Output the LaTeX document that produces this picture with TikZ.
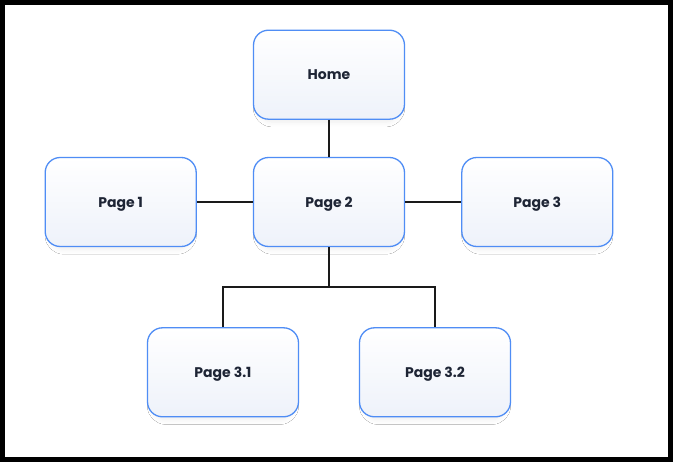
\documentclass[tikz,border=0pt]{standalone}
\usepackage{fontspec}
\setmainfont{Poppins}
\usepackage{xcolor}
\usetikzlibrary{positioning, shadows.blur}

\definecolor{boxline}{HTML}{4F8DF5}
\definecolor{boxfill}{HTML}{EEF2FA}
\definecolor{boxtext}{HTML}{1E2535}
\definecolor{wire}{HTML}{1A1A1A}

\begin{document}
\begin{tikzpicture}[
        x=1pt, y=1pt,
        font=\fontsize{14}{16}\selectfont\bfseries,
        page/.style={draw=boxline, line width=1.3pt, rounded corners=15pt, align=center,
            minimum width=151pt, minimum height=89pt, text=boxtext, text depth=0pt,
            top color=white, bottom color=boxfill,
            blur shadow={shadow xshift=0pt, shadow yshift=-6pt, shadow scale=0.94, shadow opacity=7, shadow blur radius=5pt, shadow blur steps=8}},
        link/.style={draw=wire, line width=1.3pt}
    ]
        % frame
        \useasboundingbox (0,0) rectangle (673,-462);
        \fill[black] (0,0) rectangle (673,-462);
        \fill[white] (5,-5) rectangle (668,-457);

        \node[page] (page2) at (329,-202) {Page 2};
        \node[page, above=37pt of page2] (home) {Home};
        \node[page, left=56pt of page2] (page1) {Page 1};
        \node[page, right=56pt of page2] (page3) {Page 3};
        \node[page, below=80pt of page2, xshift=-106pt] (page31) {Page 3.1};
        \node[page, below=80pt of page2, xshift=106pt] (page32) {Page 3.2};

        \draw[link] (home) -- (page2);
        \draw[link] (page1) -- (page2);
        \draw[link] (page2) -- (page3);
        \draw[link] (page2.south) -- ++(0,-40) -| (page31.north);
        \draw[link] (page2.south) -- ++(0,-40) -| (page32.north);
    \end{tikzpicture}
\end{document}
